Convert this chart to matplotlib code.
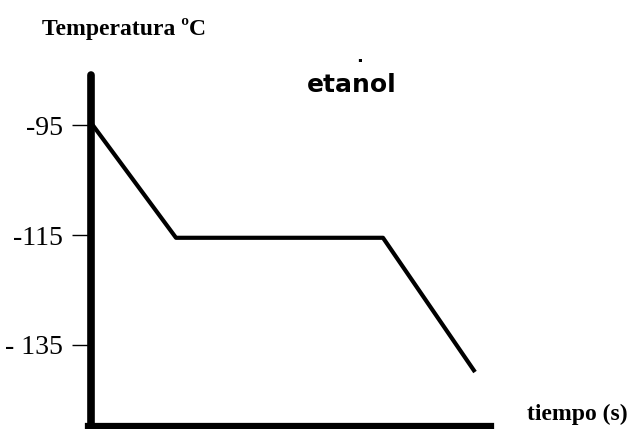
import matplotlib.pyplot as plt

# curva de enfriamiento del etanol (tiempo sin unidades)
tiempo = [0, 8.5, 29.2, 38.4]
temperatura = [-94.5, -115.5, -115.5, -140]
ticks_y = [-95, -115, -135]
ticks_txt = ["-95", "-115", "- 135"]

fig = plt.figure(figsize=(6.32, 4.29), dpi=100)
ax = fig.add_axes([91 / 632, 0, 541 / 632, 1])
ax.set_xlim(0, 54.1)
ax.set_ylim(-150.4, -72.1)

ax.plot(tiempo, temperatura, color='black', linewidth=3, solid_capstyle='butt')

for s in ['top', 'right']:
    ax.spines[s].set_visible(False)
ax.spines['left'].set_linewidth(5.5)
ax.spines['left'].set_bounds(-150.4, -85.8)
ax.spines['left'].set_capstyle('round')
ax.spines['bottom'].set_linewidth(4.5)
ax.spines['bottom'].set_position(('data', -149.9))
ax.spines['bottom'].set_bounds(-0.3, 40)

ax.set_xticks([])
ax.set_yticks(ticks_y)
ax.set_yticklabels(ticks_txt, fontfamily='Liberation Serif', fontsize=20)
ax.tick_params(axis='y', length=14, width=1, pad=6)

fig.text(42 / 632, 1 - 35 / 429, "Temperatura ºC", fontfamily='Liberation Serif',
         fontweight='bold', fontsize=17)
fig.text(307 / 632, 1 - 92 / 429, "etanol", fontfamily='DejaVu Sans',
         fontweight='bold', fontsize=18)
fig.text(356 / 632, 1 - 62 / 429, ".", fontfamily='DejaVu Sans',
         fontweight='bold', fontsize=13)
fig.text(527 / 632, 1 - 420 / 429, "tiempo (s)", fontfamily='Liberation Serif',
         fontweight='bold', fontsize=17)

fig.savefig('out.png', dpi=100)
